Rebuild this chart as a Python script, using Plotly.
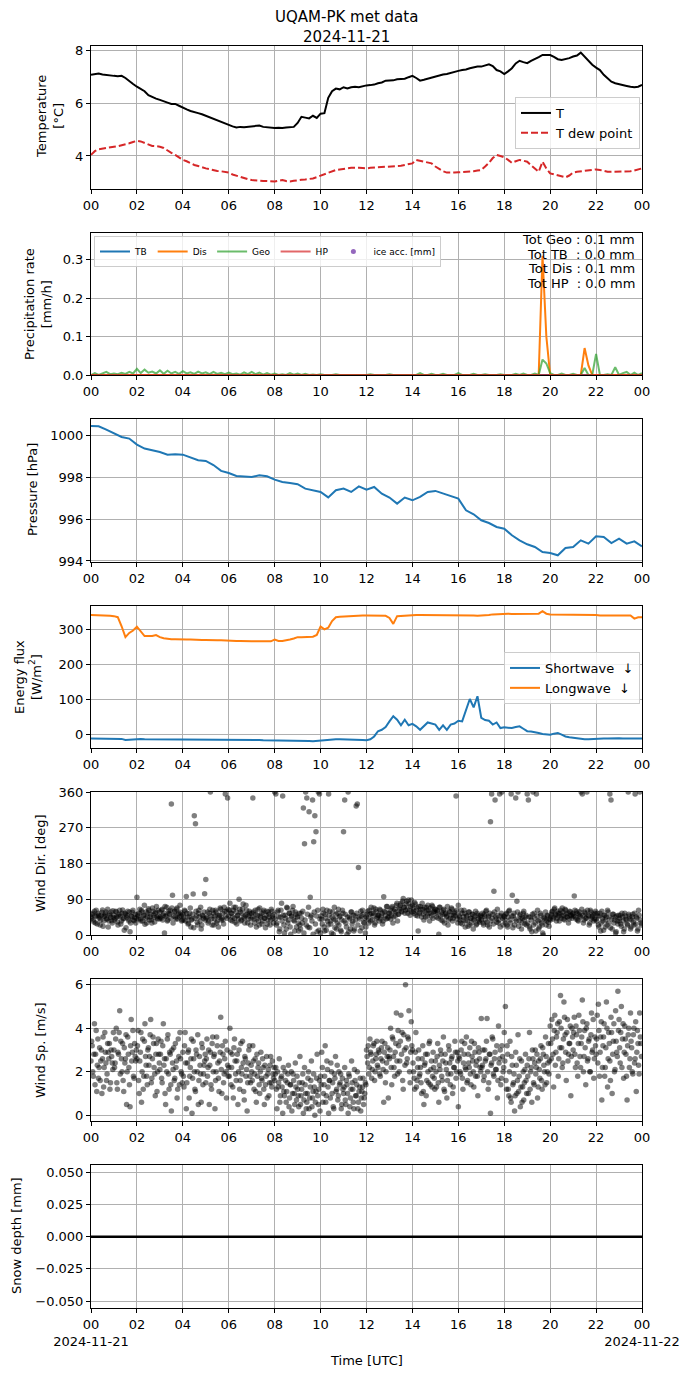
import pandas as pd
import plotly.graph_objects as go

# ======================= DATA =======================
DAY = "2024-11-21"
hour_labels = ["00", "02", "04", "06", "08", "10", "12", "14", "16", "18", "20", "22", "00"]
date_first = "2024-11-21"
date_last = "2024-11-22"

# Temperature and dew point, 10-min values [degC]
temp_T = [
    7.07, 7.10, 7.12, 7.08, 7.06, 7.03,
    7.03, 7.02, 7.03, 6.95, 6.82, 6.72,
    6.62, 6.55, 6.45, 6.30, 6.22, 6.17,
    6.12, 6.08, 6.02, 5.97, 5.97, 5.90,
    5.82, 5.76, 5.70, 5.65, 5.62, 5.58,
    5.52, 5.45, 5.40, 5.36, 5.30, 5.22,
    5.17, 5.12, 5.08, 5.10, 5.09, 5.10,
    5.11, 5.12, 5.15, 5.10, 5.08, 5.08,
    5.06, 5.07, 5.06, 5.08, 5.08, 5.10,
    5.25, 5.48, 5.45, 5.42, 5.52, 5.44,
    5.60, 5.62, 6.20, 6.45, 6.55, 6.52,
    6.60, 6.55, 6.60, 6.62, 6.60, 6.65,
    6.67, 6.68, 6.70, 6.75, 6.78, 6.85,
    6.86, 6.86, 6.90, 6.92, 6.92, 6.98,
    7.03, 6.95, 6.85, 6.88, 6.92, 6.96,
    7.00, 7.05, 7.08, 7.10, 7.15, 7.20,
    7.22, 7.25, 7.27, 7.32, 7.35, 7.38,
    7.38, 7.42, 7.47, 7.40, 7.25, 7.20,
    7.10, 7.20, 7.32, 7.50, 7.60, 7.55,
    7.51, 7.60, 7.66, 7.74, 7.82, 7.83,
    7.82, 7.75, 7.66, 7.63, 7.66, 7.70,
    7.76, 7.80, 7.91, 7.75, 7.57, 7.45,
    7.34, 7.25, 7.07, 6.95, 6.81, 6.75,
    6.71, 6.67, 6.65, 6.62, 6.60, 6.62,
    6.69,
]
temp_Td = [
    4.04, 4.18, 4.25, 4.28, 4.31, 4.33,
    4.35, 4.37, 4.40, 4.44, 4.48, 4.53,
    4.57, 4.55, 4.50, 4.45, 4.38, 4.37,
    4.35, 4.30, 4.20, 4.12, 4.04, 3.95,
    3.85, 3.80, 3.72, 3.66, 3.62, 3.56,
    3.53, 3.50, 3.46, 3.43, 3.42, 3.40,
    3.37, 3.30, 3.25, 3.21, 3.15, 3.12,
    3.09, 3.07, 3.06, 3.05, 3.05, 3.04,
    3.03, 3.06, 3.09, 3.05, 3.03, 3.06,
    3.09, 3.10, 3.11, 3.12, 3.15, 3.20,
    3.25, 3.32, 3.38, 3.43, 3.47, 3.49,
    3.50, 3.53, 3.55, 3.56, 3.55, 3.54,
    3.53, 3.55, 3.56, 3.56, 3.58, 3.59,
    3.60, 3.61, 3.62, 3.63, 3.66, 3.69,
    3.72, 3.85, 3.82, 3.78, 3.76, 3.72,
    3.60, 3.50, 3.42, 3.37, 3.36, 3.37,
    3.38, 3.39, 3.40, 3.40, 3.42, 3.45,
    3.47, 3.60, 3.74, 3.92, 4.04, 4.00,
    3.95, 3.85, 3.74, 3.80, 3.85, 3.82,
    3.78, 3.65, 3.53, 3.40, 3.78, 3.53,
    3.34, 3.30, 3.28, 3.22, 3.19, 3.26,
    3.37, 3.40, 3.42, 3.44, 3.46, 3.48,
    3.49, 3.47, 3.44, 3.40, 3.40, 3.40,
    3.40, 3.40, 3.40, 3.42, 3.45, 3.50,
    3.53,
]

# Precipitation rates, 10-min values [mm/h]
precip_geo = [
    0.000, 0.005, 0.000, 0.003, 0.008, 0.002,
    0.004, 0.002, 0.006, 0.003, 0.008, 0.004,
    0.016, 0.005, 0.014, 0.006, 0.009, 0.004,
    0.012, 0.003, 0.011, 0.004, 0.008, 0.003,
    0.010, 0.004, 0.007, 0.003, 0.009, 0.004,
    0.007, 0.002, 0.008, 0.003, 0.006, 0.002,
    0.006, 0.002, 0.004, 0.001, 0.007, 0.002,
    0.008, 0.002, 0.006, 0.001, 0.005, 0.001,
    0.004, 0.000, 0.002, 0.000, 0.005, 0.001,
    0.004, 0.000, 0.003, 0.000, 0.001, 0.000,
    0.002, 0.000, 0.000, 0.000, 0.002, 0.000,
    0.000, 0.000, 0.000, 0.000, 0.000, 0.000,
    0.000, 0.002, 0.000, 0.000, 0.000, 0.000,
    0.002, 0.000, 0.000, 0.000, 0.000, 0.000,
    0.000, 0.000, 0.005, 0.000, 0.000, 0.003,
    0.000, 0.000, 0.003, 0.000, 0.000, 0.000,
    0.005, 0.000, 0.000, 0.000, 0.003, 0.000,
    0.000, 0.002, 0.000, 0.000, 0.000, 0.002,
    0.000, 0.000, 0.000, 0.003, 0.000, 0.004,
    0.000, 0.000, 0.004, 0.000, 0.040, 0.030,
    0.005, 0.000, 0.000, 0.004, 0.000, 0.000,
    0.003, 0.000, 0.000, 0.018, 0.000, 0.000,
    0.055, 0.000, 0.000, 0.002, 0.000, 0.020,
    0.000, 0.005, 0.008, 0.000, 0.006, 0.000,
    0.005,
]
precip_dis = [
    0, 0, 0, 0, 0, 0,  0, 0, 0, 0, 0, 0,  0, 0, 0, 0, 0, 0,  0, 0, 0, 0, 0, 0,
    0, 0, 0, 0, 0, 0,  0, 0, 0, 0, 0, 0,  0, 0, 0, 0, 0, 0,  0, 0, 0, 0, 0, 0,
    0, 0, 0, 0, 0, 0,  0, 0, 0, 0, 0, 0,  0, 0, 0, 0, 0, 0,  0, 0, 0, 0, 0, 0,
    0, 0, 0, 0, 0, 0,  0, 0, 0, 0, 0, 0,  0, 0, 0, 0, 0, 0,  0, 0, 0, 0, 0, 0,
    0, 0, 0, 0, 0, 0,  0, 0, 0, 0, 0, 0,  0, 0, 0, 0, 0, 0,
    0, 0, 0, 0, 0.31, 0.10,
    0, 0, 0, 0, 0, 0,
    0, 0, 0, 0.07, 0.025, 0,
    0, 0, 0, 0, 0, 0,  0, 0, 0, 0, 0, 0,
    0,
]
precip_tb = [0.0, 0.0, 0.0, 0.0, 0.0, 0.0, 0.0, 0.0, 0.0, 0.0, 0.0, 0.0, 0.0,
             0.0, 0.0, 0.0, 0.0, 0.0, 0.0, 0.0, 0.0, 0.0, 0.0, 0.0, 0.0]
precip_hp = [0.0, 0.0, 0.0, 0.0, 0.0, 0.0, 0.0, 0.0, 0.0, 0.0, 0.0, 0.0, 0.0,
             0.0, 0.0, 0.0, 0.0, 0.0, 0.0, 0.0, 0.0, 0.0, 0.0, 0.0, 0.0]
ice_acc = [None]   # no ice accretion recorded
precip_totals = [("Geo", "0.1"), ("TB", "0.0"), ("Dis", "0.1"), ("HP", "0.0")]

# Pressure, 20-min values [hPa]
pressure = [
    1000.48, 1000.46, 1000.30, 1000.11, 999.95, 999.87,
    999.58, 999.39, 999.31, 999.23, 999.10, 999.12,
    999.10, 998.96, 998.83, 998.80, 998.60, 998.32,
    998.22, 998.08, 998.06, 998.03, 998.11, 998.06,
    997.90, 997.79, 997.74, 997.68, 997.47, 997.38,
    997.31, 997.05, 997.39, 997.47, 997.31, 997.58,
    997.42, 997.55, 997.23, 997.04, 996.75, 997.04,
    996.91, 997.07, 997.31, 997.36, 997.23, 997.10,
    996.99, 996.43, 996.24, 995.95, 995.82, 995.63,
    995.55, 995.23, 994.99, 994.80, 994.67, 994.43,
    994.38, 994.27, 994.62, 994.67, 994.99, 994.83,
    995.18, 995.15, 994.86, 995.07, 994.83, 994.94,
    994.70,
]

# Radiation, 10-min values [W/m2]
shortwave = [
    -13, -13, -13, -13, -13, -13,
    -13, -14, -14, -17, -16, -15,
    -14, -14, -15, -15, -15, -15,
    -15, -15, -16, -16, -16, -16,
    -16, -16, -16, -17, -17, -17,
    -17, -16, -16, -16, -16, -16,
    -16, -16, -17, -17, -17, -17,
    -17, -17, -17, -18, -18, -18,
    -18, -18, -18, -18, -19, -19,
    -19, -19, -19, -20, -21, -20,
    -17, -17, -16, -16, -15, -15,
    -15, -16, -16, -16, -17, -17,
    -18, -15, -7, 8, 12, 20,
    36, 51, 41, 25, 41, 25,
    29, 22, 12, 22, 33, 30,
    27, 12, 25, 12, 27, 30,
    38, 36, 70, 100, 76, 108,
    46, 40, 38, 27, 33, 17,
    19, 18, 17, 20, 22, 15,
    8, 7, 6, 3, 0, -2,
    -2, 1, 3, -2, -7, -9,
    -11, -13, -14, -15, -15, -14,
    -13, -13, -13, -13, -12, -12,
    -12, -13, -13, -12, -13, -13,
    -13,
]
longwave = [
    340, 340, 340, 339, 339, 338,
    337, 334, 308, 277, 289, 296,
    307, 294, 280, 280, 280, 283,
    277, 274, 272, 271, 271, 270,
    270, 270, 270, 269, 269, 269,
    269, 268, 268, 268, 268, 267,
    267, 267, 266, 266, 265, 265,
    265, 265, 265, 265, 265, 265,
    270, 266, 266, 267, 270, 273,
    277, 277, 277, 278, 278, 283,
    307, 299, 304, 323, 334, 335,
    336, 336, 337, 338, 338, 339,
    339, 339, 339, 338, 338, 338,
    332, 315, 337, 338, 339, 339,
    340, 340, 340, 340, 340, 340,
    340, 340, 340, 340, 340, 340,
    340, 340, 341, 340, 339, 338,
    338, 339, 340, 342, 343, 343,
    344, 344, 343, 343, 342, 342,
    342, 342, 343, 344, 351, 344,
    342, 342, 342, 341, 341, 341,
    341, 341, 340, 340, 340, 340,
    340, 339, 339, 338, 338, 337,
    337, 338, 338, 339, 330, 334,
    334,
]

# Wind direction [deg]: samples on the 3-min marks (one row per hour) ...
wind_dir_a = [
    45, 52, 38, 60, 30, 48, 55, 42, 25, 50, 63, 35, 47, 58, 40, 20, 53, 44, 36, 61,
    50, 42, 58, 33, 47, 62, 28, 55, 40, 12, 52, 45, 60, 35, 8, 48, 57, 38, 44, 30,
    95, 48, 55, 40, 62, 35, 50, 27, 58, 45, 66, 38, 52, 30, 60, 44, 55, 72, 41, 48,
    58, 42, 65, 50, 5, 47, 70, 38, 55, 62, 330, 100, 48, 60, 40, 68, 52, 45, 57, 35,
    52, 38, 60, 97, 45, 30, 55, 20, 40, 103, 300, 280, 48, 25, 62, 35, 15, 50, 42, 104,
    140, 45, 30, 55, 360, 40, 62, 25, 48, 58, 35, 20, 50, 65, 42, 38, 70, 355, 60, 345,
    48, 80, 55, 35, 62, 42, 70, 28, 50, 90, 58, 38, 66, 45, 30, 75, 52, 40, 60, 25,
    55, 345, 40, 62, 20, 50, 35, 68, 45, 28, 58, 42, 18, 60, 38, 52, 25, 65, 48, 30,
    360, 355, 30, 62, 8, 45, 80, 350, 25, 50, 15, 68, 38, 55, 2, 48, 72, 35, 58, 20,
    45, 10, 25, 55, 30, 320, 230, 360, 345, 20, 310, 95, 50, 340, 235, 300, 260, 8, 360, 355,
    5, 40, 65, 20, 52, 12, 35, 355, 60, 28, 45, 2, 70, 38, 15, 55, 25, 48, 8, 62,
    260, 340, 30, 2, 360, 45, 15, 58, 35, 10, 48, 325, 330, 170, 40, 60, 18, 52, 30, 5,
    45, 60, 30, 52, 70, 38, 55, 25, 65, 42, 50, 35, 62, 48, 28, 96, 58, 40, 72, 45,
    55, 40, 68, 30, 60, 48, 75, 35, 52, 65, 80, 58, 92, 70, 62, 85, 55, 78, 50, 88,
    75, 60, 82, 50, 68, 10, 55, 72, 45, 65, 38, 58, 70, 48, 62, 35, 55, 75, 42, 60,
    65, 45, 58, 2, 70, 38, 52, 62, 30, 55, 48, 25, 60, 42, 68, 35, 50, 58, 350, 40,
    75, 45, 30, 55, 38, 62, 20, 48, 35, 58, 25, 42, 52, 15, 40, 60, 28, 50, 35, 45,
    38, 55, 25, 48, 60, 32, 45, 20, 285, 355, 52, 110, 340, 40, 65, 30, 355, 48, 360, 25,
    45, 30, 55, 20, 60, 38, 355, 100, 48, 25, 345, 85, 360, 35, 52, 15, 42, 60, 28, 50,
    355, 340, 20, 45, 8, 360, 55, 30, 355, 62, 15, 38, 50, 25, 0, 42, 58, 35, 48, 22,
    38, 52, 60, 45, 68, 50, 42, 55, 35, 62, 48, 58, 40, 65, 52, 45, 30, 60, 50, 42,
    55, 98, 45, 60, 38, 52, 48, 360, 355, 30, 58, 42, 360, 50, 25, 62, 40, 48, 35, 55,
    40, 55, 25, 48, 10, 60, 35, 50, 20, 45, 62, 30, 355, 340, 15, 52, 38, 5, 48, 28,
    35, 50, 22, 45, 8, 55, 40, 28, 360, 48, 15, 38, 52, 25, 355, 45, 10, 62, 360, 30,
]
# ... and samples half-way between them (1.5 min later)
wind_dir_b = [
    42, 55, 33, 48, 62, 28, 50, 45, 38, 57, 22, 47, 53, 40, 65, 35, 49, 58, 30, 44,
    38, 60, 45, 25, 52, 48, 35, 63, 42, 55, 18, 50, 40, 58, 30, 46, 62, 36, 52, 42,
    52, 40, 65, 35, 58, 48, 75, 42, 30, 55, 62, 45, 38, 68, 50, 33, 58, 45, 62, 40,
    45, 62, 38, 55, 72, 48, 35, 60, 52, 42, 68, 30, 58, 45, 65, 40, 55, 75, 48, 38,
    48, 62, 35, 55, 28, 45, 68, 38, 52, 18, 42, 60, 32, 55, 45, 70, 25, 48, 58, 38,
    42, 58, 35, 65, 48, 25, 55, 40, 62, 30, 50, 45, 68, 38, 55, 28, 60, 48, 42, 65,
    62, 38, 55, 45, 70, 32, 58, 48, 40, 65, 35, 55, 78, 42, 50, 62, 30, 48, 55, 40,
    45, 58, 30, 52, 40, 65, 25, 48, 55, 35, 62, 42, 50, 28, 58, 45, 38, 60, 42, 52,
    40, 25, 58, 45, 15, 62, 35, 50, 5, 42, 70, 30, 55, 20, 48, 62, 38, 10, 52, 45,
    30, 55, 15, 42, 60, 5, 38, 25, 52, 70, 18, 45, 35, 2, 58, 28, 48, 62, 12, 40,
    48, 28, 55, 10, 42, 62, 25, 50, 35, 5, 58, 40, 18, 52, 30, 65, 45, 12, 38, 55,
    35, 52, 20, 45, 8, 40, 58, 28, 50, 15, 38, 55, 25, 45, 10, 48, 62, 32, 42, 20,
    52, 40, 62, 35, 55, 48, 68, 30, 58, 45, 50, 65, 40, 55, 35, 60, 48, 72, 42, 55,
    62, 50, 72, 45, 65, 58, 80, 52, 68, 75, 60, 85, 70, 55, 78, 65, 88, 62, 72, 58,
    68, 55, 78, 62, 48, 72, 58, 65, 80, 52, 70, 45, 62, 75, 55, 68, 48, 72, 58, 65,
    55, 62, 42, 70, 48, 58, 35, 65, 52, 45, 72, 38, 58, 50, 65, 42, 55, 48, 62, 30,
    50, 38, 62, 28, 45, 55, 35, 48, 22, 58, 42, 30, 52, 38, 48, 25, 55, 40, 32, 50,
    45, 30, 52, 38, 62, 25, 48, 55, 35, 42, 28, 58, 45, 32, 50, 38, 20, 55, 42, 48,
    38, 52, 25, 45, 62, 30, 48, 18, 55, 40, 35, 58, 22, 48, 42, 30, 55, 38, 45, 25,
    30, 45, 15, 38, 52, 25, 42, 10, 48, 35, 20, 55, 30, 5, 45, 38, 25, 50, 32, 40,
    45, 58, 40, 65, 52, 35, 60, 48, 55, 42, 68, 50, 38, 62, 45, 55, 40, 58, 48, 52,
    48, 62, 40, 55, 35, 58, 45, 65, 50, 38, 55, 42, 62, 48, 30, 58, 45, 52, 40, 60,
    35, 48, 20, 55, 30, 42, 12, 50, 38, 25, 58, 45, 18, 40, 52, 30, 45, 8, 35, 50,
    42, 28, 55, 35, 15, 48, 38, 25, 52, 40, 20, 45, 32, 55, 28, 42, 15, 50, 38, 25,
]

# Wind speed [m/s]: samples on the 3-min marks (one row per hour) ...
wind_sp_a = [
    2.5, 3.2, 1.8, 4.2, 2.8, 1.1, 3.5, 2.2, 1.6, 3.0, 2.6, 1.3, 3.8, 2.4, 1.9, 2.9, 3.3, 1.5, 2.7, 2.1,
    3.0, 2.4, 4.0, 1.2, 2.8, 4.8, 3.4, 2.0, 1.6, 3.1, 2.6, 0.5, 3.6, 2.2, 0.4, 4.4, 2.9, 1.8, 3.3, 2.5,
    2.6, 3.9, 1.0, 2.9, 0.6, 3.5, 1.8, 4.2, 2.3, 1.4, 3.1, 2.7, 4.4, 1.7, 3.6, 2.2, 0.9, 3.3, 2.0, 2.8,
    2.1, 3.4, 1.5, 4.2, 2.6, 0.5, 2.0, 3.7, 1.2, 2.8, 0.2, 2.4, 3.1, 1.7, 2.2, 0.8, 3.5, 1.4, 2.6, 1.9,
    2.9, 1.3, 3.8, 0.3, 2.4, 3.0, 1.8, 2.6, 0.1, 3.4, 2.0, 1.1, 2.8, 3.7, 1.6, 2.3, 0.6, 3.1, 1.9, 2.5,
    1.5, 3.5, 2.2, 0.5, 2.9, 1.2, 3.6, 2.7, 0.3, 2.0, 3.2, 1.7, 2.5, 4.5, 1.0, 2.8, 1.9, 3.4, 0.8, 2.3,
    2.2, 4.0, 1.4, 2.8, 0.8, 3.5, 1.9, 2.5, 0.5, 3.0, 1.6, 2.2, 3.4, 1.1, 2.7, 1.8, 0.2, 2.4, 3.2, 1.5,
    2.0, 3.2, 1.2, 2.6, 0.6, 1.8, 2.4, 1.0, 2.9, 1.6, 2.2, 0.5, 1.4, 2.7, 1.9, 0.9, 2.3, 1.5, 2.5, 1.7,
    1.6, 2.2, 0.3, 1.3, 2.6, 0.9, 1.8, 0.1, 1.1, 2.0, 0.6, 1.5, 2.3, 0.8, 1.4, 0.2, 1.9, 1.0, 2.4, 0.7,
    1.2, 0.4, 2.7, 0.9, 1.5, 0.1, 2.2, 1.0, 0.6, 1.7, 0.3, 1.3, 2.5, 0.8, 1.9, 0.0, 1.1, 2.8, 0.5, 1.6,
    1.8, 2.9, 0.6, 1.4, 3.2, 0.9, 2.1, 0.1, 1.6, 2.4, 1.0, 0.4, 1.9, 2.7, 1.2, 0.7, 2.0, 1.5, 0.3, 1.7,
    1.0, 2.2, 0.5, 1.4, 0.1, 1.8, 0.8, 2.5, 1.2, 0.3, 1.6, 0.9, 2.0, 0.6, 1.3, 0.2, 1.1, 1.7, 0.8, 1.5,
    3.0, 2.4, 1.9, 3.5, 2.8, 2.1, 3.2, 1.6, 2.6, 3.4, 2.2, 2.9, 1.8, 3.1, 2.5, 0.6, 3.3, 2.0, 2.7, 0.8,
    2.6, 4.0, 1.4, 3.5, 2.2, 2.9, 4.7, 1.9, 3.2, 2.5, 4.6, 3.8, 1.2, 3.0, 6.0, 2.4, 3.6, 4.8, 1.5, 4.3,
    3.0, 2.0, 1.2, 3.8, 1.6, 2.6, 1.8, 2.2, 1.0, 3.2, 0.5, 2.4, 0.9, 2.8, 1.5, 3.4, 2.1, 1.3, 2.9, 1.7,
    2.5, 1.3, 3.3, 0.6, 2.1, 2.8, 1.6, 3.6, 1.1, 2.4, 0.8, 1.9, 3.0, 1.4, 2.6, 1.0, 2.2, 3.4, 1.7, 2.9,
    0.4, 2.6, 1.9, 3.4, 1.2, 2.8, 2.2, 3.6, 1.6, 2.4, 3.1, 1.4, 2.7, 2.0, 3.3, 1.8, 2.5, 0.9, 2.9, 2.2,
    4.45, 2.3, 1.6, 3.0, 2.6, 4.45, 1.2, 2.8, 0.1, 2.4, 3.5, 1.8, 2.9, 2.1, 0.8, 4.1, 2.6, 1.4, 3.2, 2.0,
    3.8, 5.0, 1.2, 2.8, 0.9, 3.4, 0.6, 2.3, 1.5, 0.2, 2.9, 1.0, 3.7, 1.8, 0.4, 2.5, 1.3, 0.7, 2.1, 1.6,
    2.3, 1.0, 3.8, 2.0, 0.6, 2.6, 1.4, 3.0, 2.2, 0.8, 2.5, 1.7, 3.2, 1.2, 2.8, 2.0, 3.6, 1.5, 2.4, 1.9,
    4.1, 2.6, 3.5, 1.3, 4.6, 2.9, 3.8, 1.8, 4.3, 5.5, 3.1, 2.4, 5.2, 3.7, 1.6, 4.4, 2.8, 3.3, 0.9, 4.0,
    3.0, 4.5, 2.2, 3.7, 1.8, 4.6, 2.7, 3.3, 5.3, 2.0, 3.9, 1.4, 4.2, 2.6, 3.5, 2.0, 4.7, 3.0, 1.7, 3.6,
    2.8, 4.6, 5.1, 1.8, 3.6, 0.7, 3.2, 4.2, 2.2, 5.2, 1.3, 3.8, 2.5, 4.5, 1.0, 3.4, 2.0, 4.8, 2.9, 5.7,
    4.4, 2.4, 5.0, 3.5, 1.7, 4.1, 2.8, 0.7, 3.7, 2.2, 4.7, 3.1, 1.9, 4.0, 2.6, 1.1, 3.9, 2.3, 4.7, 3.3,
]
# ... and samples half-way between them (1.5 min later)
wind_sp_b = [
    3.4, 2.0, 2.8, 1.4, 3.9, 2.3, 1.7, 3.1, 2.5, 1.0, 3.6, 2.2, 2.9, 1.6, 3.3, 2.6, 1.2, 3.0, 2.4, 3.8,
    2.2, 3.5, 1.5, 2.9, 3.8, 1.9, 2.6, 3.3, 1.1, 2.4, 3.7, 2.0, 2.8, 1.4, 3.2, 2.5, 3.9, 1.7, 2.7, 3.0,
    3.2, 1.6, 2.5, 3.8, 2.0, 1.2, 3.4, 2.7, 1.8, 3.0, 2.3, 3.7, 1.5, 2.6, 3.3, 1.9, 2.8, 1.1, 3.5, 2.4,
    2.8, 1.7, 3.2, 2.3, 1.0, 2.6, 3.5, 1.9, 2.9, 1.4, 3.0, 2.1, 1.6, 3.3, 2.5, 1.2, 2.7, 3.8, 2.0, 1.5,
    1.8, 3.2, 2.4, 1.5, 2.9, 0.8, 2.2, 3.5, 1.7, 2.6, 1.2, 3.0, 2.0, 0.5, 2.7, 1.9, 3.3, 1.4, 2.3, 2.8,
    2.6, 1.8, 3.0, 2.3, 1.4, 3.3, 2.0, 2.8, 1.6, 3.6, 2.4, 1.1, 2.9, 2.1, 3.2, 1.5, 2.6, 2.0, 3.0, 1.8,
    1.8, 2.9, 2.2, 1.3, 3.1, 2.5, 1.6, 2.8, 2.0, 1.2, 3.3, 1.9, 2.4, 0.7, 2.6, 2.1, 1.5, 3.0, 1.8, 2.3,
    1.6, 2.5, 1.9, 1.1, 2.8, 2.2, 1.4, 2.0, 1.7, 2.6, 1.2, 2.3, 1.8, 0.8, 2.1, 1.5, 2.7, 1.3, 1.9, 2.2,
    1.9, 1.2, 2.0, 1.5, 0.6, 1.7, 1.3, 2.2, 0.9, 1.6, 1.1, 1.9, 0.4, 1.4, 2.0, 1.0, 1.6, 0.5, 1.3, 1.8,
    0.9, 1.5, 0.5, 1.2, 1.9, 0.7, 1.4, 0.3, 1.0, 2.0, 0.8, 1.6, 0.4, 1.1, 1.3, 0.6, 1.7, 0.9, 1.2, 0.2,
    1.4, 2.2, 1.0, 1.8, 0.6, 2.5, 1.3, 1.6, 0.8, 2.0, 1.5, 0.3, 1.7, 1.1, 2.3, 0.9, 1.4, 1.9, 0.5, 1.2,
    1.3, 0.7, 1.6, 1.0, 1.9, 0.4, 1.2, 1.5, 0.6, 2.1, 0.9, 1.4, 0.3, 1.1, 1.7, 0.8, 1.3, 0.5, 1.0, 1.4,
    2.7, 3.2, 2.2, 2.9, 1.7, 2.5, 3.3, 2.0, 2.8, 2.3, 3.0, 1.9, 2.6, 3.4, 2.1, 2.9, 1.5, 2.4, 3.1, 2.7,
    3.0, 2.2, 3.6, 2.7, 1.8, 3.3, 2.5, 3.9, 2.0, 3.4, 2.8, 1.6, 3.7, 2.3, 3.1, 2.6, 3.5, 2.0, 2.9, 3.2,
    2.4, 1.7, 2.9, 1.3, 2.2, 3.0, 1.9, 1.5, 2.6, 1.1, 2.3, 2.8, 1.6, 2.0, 3.3, 1.4, 2.5, 1.8, 2.2, 1.2,
    2.0, 2.7, 1.5, 2.3, 3.0, 1.8, 2.5, 1.2, 2.8, 2.1, 1.6, 3.2, 2.4, 1.9, 2.7, 1.3, 2.2, 2.9, 2.0, 2.5,
    2.7, 2.0, 3.0, 1.7, 2.4, 3.3, 2.1, 1.5, 2.8, 2.2, 1.9, 3.4, 2.5, 1.3, 2.9, 2.3, 1.8, 3.1, 2.6, 2.0,
    2.2, 3.0, 1.8, 2.5, 3.4, 2.0, 1.5, 2.8, 2.3, 3.6, 1.9, 2.6, 2.1, 3.2, 1.6, 2.4, 3.0, 1.7, 2.7, 2.2,
    2.5, 1.6, 3.2, 1.2, 2.0, 0.8, 2.7, 1.4, 1.9, 0.9, 2.3, 1.6, 1.1, 2.6, 1.3, 0.6, 2.0, 1.5, 2.8, 1.0,
    1.8, 2.6, 1.2, 2.2, 3.0, 1.5, 2.4, 1.9, 2.8, 1.3, 2.1, 2.6, 1.6, 3.1, 2.3, 1.4, 2.7, 2.0, 3.3, 2.5,
    3.3, 4.4, 2.8, 3.9, 2.3, 3.6, 4.2, 2.6, 3.1, 4.0, 2.2, 3.5, 4.5, 2.9, 3.8, 2.5, 3.3, 4.1, 2.7, 3.6,
    3.8, 2.8, 4.1, 2.4, 3.3, 3.9, 2.2, 3.6, 4.3, 2.7, 3.1, 4.0, 2.5, 3.4, 2.0, 3.7, 2.9, 4.4, 2.6, 3.2,
    3.5, 2.4, 3.9, 2.9, 4.3, 2.2, 3.6, 1.8, 3.1, 4.0, 2.6, 3.3, 1.6, 3.8, 2.8, 4.2, 2.1, 3.4, 2.7, 3.9,
    3.1, 3.8, 2.2, 4.2, 2.9, 3.5, 1.8, 3.2, 4.0, 2.6, 3.4, 2.0, 3.7, 2.4, 4.3, 2.9, 3.3, 1.9, 3.6, 2.7,
]

# Snow depth, hourly [mm]
snow_depth = [0.0, 0.0, 0.0, 0.0, 0.0, 0.0, 0.0, 0.0, 0.0, 0.0, 0.0, 0.0, 0.0,
              0.0, 0.0, 0.0, 0.0, 0.0, 0.0, 0.0, 0.0, 0.0, 0.0, 0.0, 0.0]

# ======================= LAYOUT HELPERS =======================
# Reference canvas 692x1377; the page adds an 8 px body margin, so the figure is 8 px smaller.
REF_W, REF_H, OFF = 692, 1377, 8
PLOT_L, PLOT_R, PLOT_T, PLOT_B = 91, 642, 45, 1308   # plot-area edges in reference pixels
W, H = REF_W - OFF, REF_H - OFF
ML, MR, MT, MB = PLOT_L - OFF, REF_W - PLOT_R, PLOT_T - OFF, REF_H - PLOT_B
PW = PLOT_R - PLOT_L
PH = PLOT_B - PLOT_T
FONT = "DejaVu Sans"
FS = 13


def px_x(px):
    return (px - PLOT_L) / PW


def px_y(py):
    return (PLOT_B - py) / PH


def times(step, n, offset_min=0.0):
    return pd.date_range(pd.Timestamp(DAY) + pd.Timedelta(minutes=offset_min), periods=n, freq=step)


t_start = pd.Timestamp(DAY)
t_end = t_start + pd.Timedelta(hours=24)
tick_pos = pd.date_range(t_start, t_end, freq="2h")

panels_px = [(46, 189), (233, 375), (419, 562), (606, 748), (792, 935), (979, 1121), (1165, 1308)]

C_BLUE, C_ORANGE, C_RED, C_PURPLE = "#1f77b4", "#ff7f0e", "#d62728", "#9467bd"

fig = go.Figure()


def ax(i):
    return ("x" if i == 1 else f"x{i}"), ("y" if i == 1 else f"y{i}")


# Panel 1: temperature
xa, ya = ax(1)
fig.add_trace(go.Scatter(x=times("10min", len(temp_T)), y=temp_T, mode="lines", name="T",
                         line=dict(color="black", width=2), xaxis=xa, yaxis=ya, legend="legend"))
fig.add_trace(go.Scatter(x=times("10min", len(temp_Td)), y=temp_Td, mode="lines", name="T dew point",
                         line=dict(color=C_RED, width=2, dash="7px,3px"), xaxis=xa, yaxis=ya, legend="legend"))

# Panel 2: precipitation
xa, ya = ax(2)
fig.add_trace(go.Scatter(x=times("1h", len(precip_tb)), y=precip_tb, mode="lines", name="TB",
                         line=dict(color=C_BLUE, width=2), xaxis=xa, yaxis=ya, legend="legend2"))
fig.add_trace(go.Scatter(x=times("10min", len(precip_dis)), y=precip_dis, mode="lines", name="Dis",
                         line=dict(color=C_ORANGE, width=2), xaxis=xa, yaxis=ya, legend="legend2"))
fig.add_trace(go.Scatter(x=times("10min", len(precip_geo)), y=precip_geo, mode="lines", name="Geo",
                         line=dict(color="rgba(44,160,44,0.7)", width=2), xaxis=xa, yaxis=ya, legend="legend2"))
fig.add_trace(go.Scatter(x=times("1h", len(precip_hp)), y=precip_hp, mode="lines", name="HP",
                         line=dict(color="rgba(214,39,40,0.7)", width=2), xaxis=xa, yaxis=ya, legend="legend2"))
fig.add_trace(go.Scatter(x=times("10min", len(ice_acc)), y=ice_acc, mode="markers", name="ice acc. [mm]",
                         marker=dict(color=C_PURPLE, size=5), xaxis=xa, yaxis=ya, legend="legend2"))

# Panel 3: pressure
xa, ya = ax(3)
fig.add_trace(go.Scatter(x=times("20min", len(pressure)), y=pressure, mode="lines", showlegend=False,
                         line=dict(color=C_BLUE, width=2), xaxis=xa, yaxis=ya))

# Panel 4: radiation
xa, ya = ax(4)
fig.add_trace(go.Scatter(x=times("10min", len(shortwave)), y=shortwave, mode="lines",
                         name="Shortwave \u00a0\u2193",
                         line=dict(color=C_BLUE, width=2), xaxis=xa, yaxis=ya, legend="legend3"))
fig.add_trace(go.Scatter(x=times("10min", len(longwave)), y=longwave, mode="lines",
                         name="Longwave \u00a0\u2193",
                         line=dict(color=C_ORANGE, width=2), xaxis=xa, yaxis=ya, legend="legend3"))

dot = dict(color="black", size=5.5, opacity=0.5, line=dict(width=0))

# Panel 5: wind direction
xa, ya = ax(5)
wd_t = list(times("3min", len(wind_dir_a))) + list(times("3min", len(wind_dir_b), 1.5))
fig.add_trace(go.Scatter(x=wd_t, y=wind_dir_a + wind_dir_b, mode="markers", showlegend=False,
                         marker=dot, xaxis=xa, yaxis=ya))

# Panel 6: wind speed
xa, ya = ax(6)
ws_t = list(times("3min", len(wind_sp_a))) + list(times("3min", len(wind_sp_b), 1.5))
fig.add_trace(go.Scatter(x=ws_t, y=wind_sp_a + wind_sp_b, mode="markers", showlegend=False,
                         marker=dot, xaxis=xa, yaxis=ya))

# Panel 7: snow depth
xa, ya = ax(7)
fig.add_trace(go.Scatter(x=times("1h", len(snow_depth)), y=snow_depth, mode="lines", showlegend=False,
                         line=dict(color="black", width=2.5), xaxis=xa, yaxis=ya))

# ---- axes ----
y_specs = [
    dict(range=[2.75, 8.16], tickvals=[4, 6, 8], ticktext=["4", "6", "8"]),
    dict(range=[0, 0.369], tickvals=[0, 0.1, 0.2, 0.3], ticktext=["0.0", "0.1", "0.2", "0.3"]),
    dict(range=[993.95, 1000.81], tickvals=[994, 996, 998, 1000], ticktext=["994", "996", "998", "1000"]),
    dict(range=[-40, 366], tickvals=[0, 100, 200, 300], ticktext=["0", "100", "200", "300"]),
    dict(range=[0, 360], tickvals=[0, 90, 180, 270, 360], ticktext=["0", "90", "180", "270", "360"]),
    dict(range=[-0.26, 6.26], tickvals=[0, 2, 4, 6], ticktext=["0", "2", "4", "6"]),
    dict(range=[-0.0553, 0.0556], tickvals=[-0.05, -0.025, 0, 0.025, 0.05],
         ticktext=["\u22120.050", "\u22120.025", "0.000", "0.025", "0.050"]),
]
common = dict(showline=True, linecolor="black", linewidth=1, mirror=True, ticks="outside",
              ticklen=4, tickwidth=1, tickcolor="black", showgrid=True, gridcolor="#b0b0b0",
              gridwidth=0.8, zeroline=False, tickfont=dict(family=FONT, size=FS, color="black"))

layout_axes = {}
for i, (top, bot) in enumerate(panels_px, start=1):
    dom = [px_y(bot), px_y(top)]
    xname = "xaxis" if i == 1 else f"xaxis{i}"
    yname = "yaxis" if i == 1 else f"yaxis{i}"
    xt = list(hour_labels)
    if i == 7:
        xt[0] = hour_labels[0] + "<br>" + date_first
        xt[-1] = hour_labels[-1] + "<br>" + date_last
    layout_axes[xname] = dict(common, domain=[0, 1], anchor=("y" if i == 1 else f"y{i}"), type="date",
                              range=[t_start, t_end], tickvals=list(tick_pos), ticktext=xt,
                              tickangle=0)
    layout_axes[yname] = dict(common, domain=dom, anchor=("x" if i == 1 else f"x{i}"), **y_specs[i - 1])

fig.update_layout(**layout_axes)

# ---- y labels, title, texts ----
ylabels = [
    ("Temperature<br>[\u00b0C]", 50, 117),
    ("Precipitation rate<br>[mm/h]", 38, 304),
    ("Pressure [hPa]", 32, 490),
    ("Energy flux<br>[W/m<sup>2</sup>]", 28, 677),
    ("Wind Dir. [deg]", 40, 863),
    ("Wind Sp. [m/s]", 40, 1050),
    ("Snow depth [mm]", 16, 1236),
]
ann = []
for txt, xp, yp in ylabels:
    ann.append(dict(text=txt, x=px_x(xp), y=px_y(yp), xref="paper", yref="paper", xanchor="center",
                    yanchor="middle", textangle=-90, showarrow=False,
                    font=dict(family=FONT, size=FS, color="black")))
ann.append(dict(text="UQAM-PK met data<br>2024-11-21", x=px_x(346), y=px_y(6), xref="paper", yref="paper",
                xanchor="center", yanchor="top", showarrow=False,
                font=dict(family=FONT, size=15, color="black")))
ann.append(dict(text="Time [UTC]", x=px_x(366), y=px_y(1360), xref="paper", yref="paper",
                xanchor="center", yanchor="middle", showarrow=False,
                font=dict(family=FONT, size=FS, color="black")))
for k, (nm, val) in enumerate(precip_totals):
    label = (f"Tot {nm}".ljust(7) + " : " + val + " mm").replace(" ", "\u00a0")
    ann.append(dict(text=label, x=px_x(637), y=px_y(240 + 14.4 * k), xref="paper", yref="paper",
                    xanchor="right", yanchor="middle", showarrow=False,
                    font=dict(family=FONT, size=FS, color="black")))

leg_common = dict(bgcolor="rgba(255,255,255,0.8)", bordercolor="#cccccc", borderwidth=1,
                  font=dict(family=FONT, size=FS, color="black"))
fig.update_layout(
    width=W, height=H,
    margin=dict(l=ML, r=MR, t=MT, b=MB, autoexpand=False),
    paper_bgcolor="white", plot_bgcolor="white",
    font=dict(family=FONT, size=FS, color="black"),
    annotations=ann,
    legend=dict(leg_common, x=px_x(640), y=px_y(97), xanchor="right", yanchor="top", tracegroupgap=2),
    legend2=dict(leg_common, x=px_x(94), y=px_y(236), xanchor="left", yanchor="top", orientation="h",
                 font=dict(family=FONT, size=9, color="black"), itemwidth=30),
    legend3=dict(leg_common, x=px_x(640), y=px_y(652), xanchor="right", yanchor="top"),
    showlegend=True,
)

fig.write_html("out.html")
